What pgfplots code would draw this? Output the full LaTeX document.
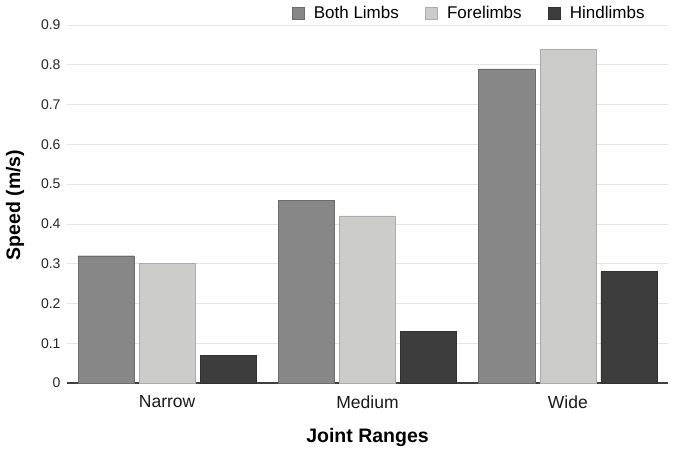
\documentclass[border=0pt]{standalone}
\usepackage{pgfplots}
\pgfplotsset{compat=1.18}
\usepackage{fontspec}
\setmainfont{Liberation Sans}
\definecolor{cboth}{HTML}{878787}
\definecolor{cfore}{HTML}{CBCCCA}
\definecolor{chind}{HTML}{3D3D3D}
\begin{document}
\begin{tikzpicture}[x=1pt,y=1pt]
\path[use as bounding box] (-67,-72) rectangle (609,383);
\begin{axis}[
  at={(0,0)}, anchor=south west,
  scale only axis, width=601pt, height=358pt,
  xmin=-0.5, xmax=2.5, ymin=0, ymax=0.9,
  ybar, bar width=0.28,
  xtick={0,1,2}, xticklabels={Narrow,Medium,Wide},
  ytick={0,0.1,...,0.9},
  yticklabels={0,0.1,0.2,0.3,0.4,0.5,0.6,0.7,0.8,0.9},
  /pgf/number format/assume math mode=true,
  tick style={draw=none},
  ymajorgrids, grid style={draw=black!10, line width=0.6pt},
  axis x line*=bottom, axis y line*=left,
  x axis line style={draw=black!75, line width=1.2pt, -},
  y axis line style={draw=none},
  yticklabel style={font=\fontsize{14}{16}\selectfont, text=black!85, xshift=-3pt},
  xticklabel style={font=\fontsize{17.5}{20}\selectfont, text=black!90, yshift=-5pt},
  xlabel={\textbf{Joint Ranges}},
  ylabel={\textbf{Speed (m/s)}},
  label style={font=\fontsize{19.5}{22}\selectfont},
  xlabel style={at={(rel axis cs:0.5,-0.151)}, anchor=center},
  ylabel style={at={(rel axis cs:-0.0865,0.497)}, anchor=center, rotate=0},
  legend columns=3,
  legend style={at={(rel axis cs:0.669,1.034)}, anchor=center, draw=none, fill=none,
    font=\fontsize{17}{20}\selectfont, /tikz/every even column/.append style={column sep=24pt}},
  legend image code/.code={\fill[#1] (0pt,-6pt) rectangle (12pt,6pt);\path[draw=none,fill=none] (0pt,0pt) -- (20pt,0pt);},
]
\addplot[fill=cboth, draw=cboth!80!black, bar shift=-0.305] coordinates {(0,0.32) (1,0.46) (2,0.79)};
\addplot[fill=cfore, draw=cfore!85!black, bar shift=0] coordinates {(0,0.30) (1,0.42) (2,0.84)};
\addplot[fill=chind, draw=chind!80!black, bar shift=0.305] coordinates {(0,0.07) (1,0.13) (2,0.28)};
\legend{Both Limbs,Forelimbs,Hindlimbs}
\end{axis}
\end{tikzpicture}
\end{document}
